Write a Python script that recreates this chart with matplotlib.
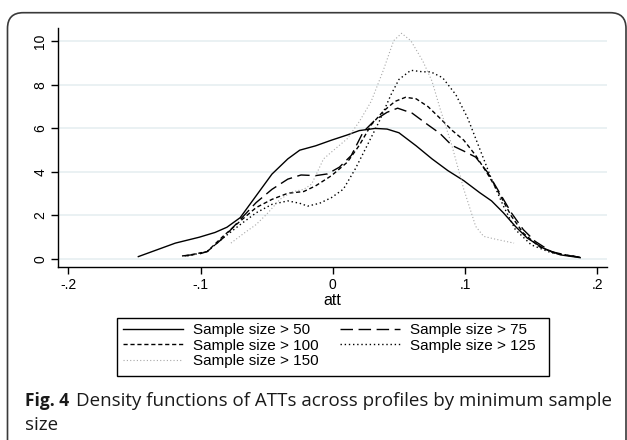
import matplotlib
matplotlib.use("Agg")
import matplotlib.pyplot as plt
from matplotlib.patches import FancyBboxPatch, Rectangle
import numpy as np

# ---- data ----
x50 = [-0.147, -0.119, -0.101, -0.089, -0.080, -0.070, -0.058, -0.046, -0.034, -0.025, -0.013, -0.001,
       0.011, 0.020, 0.032, 0.041, 0.050, 0.063, 0.075, 0.087, 0.099, 0.111, 0.120, 0.129, 0.138, 0.147,
       0.159, 0.172, 0.187]
y50 = [0.11, 0.73, 1.0, 1.22, 1.46, 1.9, 2.9, 3.9, 4.6, 5.0, 5.2, 5.46,
       5.7, 5.9, 6.0, 5.97, 5.8, 5.2, 4.6, 4.06, 3.6, 3.05, 2.67, 2.12, 1.5, 0.96,
       0.5, 0.19, 0.06]

x75 = [-0.114, -0.101, -0.095, -0.083, -0.070, -0.058, -0.046, -0.034, -0.024, -0.013, -0.004, 0.005,
       0.014, 0.023, 0.032, 0.041, 0.049, 0.060, 0.072, 0.081, 0.090, 0.099, 0.108, 0.117, 0.126, 0.135,
       0.144, 0.153, 0.165, 0.178, 0.187]
y75 = [0.14, 0.23, 0.34, 0.96, 1.81, 2.59, 3.2, 3.67, 3.86, 3.83, 3.91, 4.22,
       4.76, 5.84, 6.39, 6.74, 6.93, 6.7, 6.16, 5.77, 5.22, 4.96, 4.68, 3.98, 3.05, 2.12,
       1.35, 0.81, 0.34, 0.16, 0.08]

x100 = [-0.112, -0.095, -0.083, -0.070, -0.058, -0.046, -0.034, -0.022, -0.013, -0.001, 0.011, 0.020,
        0.029, 0.038, 0.047, 0.055, 0.063, 0.072, 0.081, 0.090, 0.099, 0.108, 0.117, 0.126, 0.135, 0.144,
        0.156, 0.168, 0.187]
y100 = [0.14, 0.34, 1.04, 1.74, 2.36, 2.74, 3.02, 3.1, 3.36, 3.83, 4.45, 5.22,
        6.16, 6.78, 7.24, 7.43, 7.36, 7.0, 6.47, 5.92, 5.46, 4.76, 3.91, 2.98, 1.97, 1.19,
        0.57, 0.26, 0.08]

x125 = [-0.110, -0.095, -0.083, -0.070, -0.058, -0.046, -0.034, -0.025, -0.019, -0.010, -0.001, 0.008,
        0.017, 0.026, 0.035, 0.044, 0.050, 0.059, 0.068, 0.074, 0.083, 0.093, 0.102, 0.111, 0.120, 0.129,
        0.138, 0.150, 0.165, 0.187]
y125 = [0.14, 0.34, 0.96, 1.58, 2.12, 2.51, 2.67, 2.56, 2.43, 2.56, 2.82, 3.21,
        4.14, 5.22, 6.31, 7.55, 8.25, 8.67, 8.6, 8.6, 8.33, 7.55, 6.47, 5.07, 3.67, 2.43,
        1.35, 0.65, 0.29, 0.08]

x150 = [-0.077, -0.067, -0.058, -0.049, -0.040, -0.031, -0.022, -0.016, -0.007, 0.002, 0.011, 0.020,
        0.029, 0.038, 0.046, 0.052, 0.059, 0.068, 0.075, 0.081, 0.090, 0.099, 0.108, 0.114, 0.123, 0.137]
y150 = [0.73, 1.19, 1.58, 2.12, 2.74, 3.08, 3.2, 3.44, 4.6, 5.07, 5.53, 6.31,
        7.24, 8.64, 10.03, 10.37, 10.03, 9.1, 8.17, 6.93, 5.22, 3.21, 1.5, 1.04, 0.91, 0.73]

labels = ["Sample size > 50", "Sample size > 75", "Sample size > 100",
          "Sample size > 125", "Sample size > 150"]
xticks = [-0.2, -0.1, 0, 0.1, 0.2]
xticklabels = ["-.2", "-.1", "0", ".1", ".2"]
yticks = [0, 2, 4, 6, 8, 10]
yticklabels = ["0", "2", "4", "6", "8", "10"]

W, H = 627, 440
fig = plt.figure(figsize=(W / 100, H / 100), dpi=100)
plt.rcParams['font.family'] = ['Liberation Sans', 'DejaVu Sans']

# outer rounded frame of the figure panel
frame = FancyBboxPatch((7.5 / W, -0.2), (626 - 7.5) / W, (H - 12.7) / H + 0.2,
                       boxstyle="round,pad=0,rounding_size=0.025",
                       transform=fig.transFigure, fill=False, edgecolor="#3a3a3a",
                       linewidth=1.2, clip_on=False, mutation_aspect=W / H)
fig.patches.append(frame)

ax = fig.add_axes([58.3 / W, 1 - 266.7 / H, (607.3 - 58.3) / W, (266.7 - 28.3) / H])
ax.set_xlim(-0.2075, 0.2075)
ax.set_ylim(-0.354, 10.6)

for t in yticks:
    ax.axhline(t, color="#e6eff1", linewidth=1.2, zorder=0)

l50, = ax.plot(x50, y50, color="black", linewidth=1.0, linestyle="-")
l75, = ax.plot(x75, y75, color="black", linewidth=1.0, linestyle=(0, (9, 4)))
l100, = ax.plot(x100, y100, color="black", linewidth=1.0, linestyle=(0, (3, 2)))
l125, = ax.plot(x125, y125, color="black", linewidth=1.0, linestyle=(0, (1, 2)))
l150, = ax.plot(x150, y150, color="#a8a8a8", linewidth=0.8, linestyle=(0, (1, 2)))

for s in ["top", "right"]:
    ax.spines[s].set_visible(False)
ax.spines["left"].set_linewidth(1.0)
ax.spines["bottom"].set_linewidth(1.0)

ax.set_xticks(xticks)
ax.set_xticklabels(xticklabels, fontsize=10)
ax.set_yticks(yticks)
ax.set_yticklabels(yticklabels, fontsize=10, rotation=90, va="center")
ax.tick_params(axis="both", direction="out", length=5, width=1.0, pad=3)
ax.set_xlabel("att", fontsize=11.5, labelpad=1)

# legend box (drawn explicitly) and legend entries
box = Rectangle((117 / W, 1 - 376 / H), (549 - 117) / W, 58 / H, transform=fig.transFigure,
                fill=False, edgecolor="black", linewidth=1.0)
fig.patches.append(box)

handles = [l50, l100, l150, l75, l125]
hl = [labels[0], labels[2], labels[4], labels[1], labels[3]]
leg = fig.legend(handles, hl, loc="upper left",
                 bbox_to_anchor=(123 / W, 1 - 327.5 / H, (536 - 123) / W, 0.01),
                 mode="expand", ncol=2, fontsize=11, frameon=False,
                 handlelength=3.9, handletextpad=0.7,
                 borderpad=0.0, labelspacing=0.11, borderaxespad=0, columnspacing=1.0)

# caption
cap_font = ['Open Sans', 'DejaVu Sans']
t1 = fig.text(25 / W, 1 - 401 / H, "Fig. 4", fontsize=12.5, fontweight="bold",
              family=cap_font, va="center", ha="left", color="#1a1a1a")
fig.canvas.draw()
bb = t1.get_window_extent()
fig.text((bb.x1 + 7) / W, 1 - 401 / H, "Density functions of ATTs across profiles by minimum sample",
         fontsize=13.5, family=cap_font, va="center", ha="left", color="#1a1a1a")
fig.text(25 / W, 1 - 425 / H, "size", fontsize=13.5, family=cap_font, va="center",
         ha="left", color="#1a1a1a")

fig.savefig("out.png", dpi=100)
